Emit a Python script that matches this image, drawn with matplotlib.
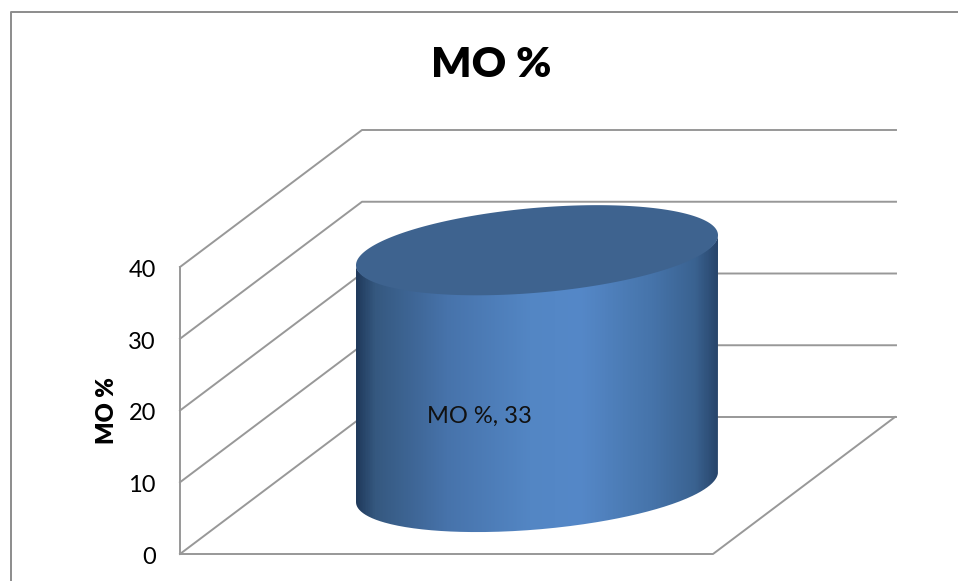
import numpy as np
from matplotlib import pyplot as plt
from matplotlib.colors import LinearSegmentedColormap
from matplotlib.patches import PathPatch
from matplotlib.path import Path

plt.rcParams['font.family'] = ['Lato', 'DejaVu Sans']

chart_title = 'MO %'
y_label = 'MO %'
y_ticks = [0, 10, 20, 30, 40]
series_name = 'MO %'
series_value = 33

# picture geometry, in pixels
X_FRONT, X_BACK, X_RIGHT = 180, 362, 896
X_FLOOR = 713
Y_ZERO_FRONT, Y_ZERO_BACK = 554, 417
PX_PER_UNIT = 7.175
GREY = '#989898'


def y_front(v):
    return Y_ZERO_FRONT - v * PX_PER_UNIT


def y_back(v):
    return Y_ZERO_BACK - v * PX_PER_UNIT


def ellipse(cx, cy, t):
    return cx + 181 * np.cos(t), cy - 15 * np.cos(t) + 42.5 * np.sin(t)


fig = plt.figure(figsize=(9.58, 5.81), dpi=100)
ax = fig.add_axes([0, 0, 1, 1])
ax.set_xlim(0, 958)
ax.set_ylim(581, 0)
ax.axis('off')

# outer chart border
ax.plot([11, 11, 958], [581, 12, 12], color='#8c8c8c', lw=1.4)

# walls and gridlines
for v in y_ticks:
    ax.plot([X_FRONT, X_BACK, X_RIGHT], [y_front(v), y_back(v), y_back(v)], color=GREY, lw=1.4)
    ax.text(156, y_front(v) + 3.5, str(v), fontsize=17, ha='right', va='center', color='black')
ax.plot([X_FRONT, X_FRONT], [y_front(0), y_front(y_ticks[-1])], color=GREY, lw=1.4)
ax.plot([X_FRONT, X_FLOOR, X_RIGHT - 1], [Y_ZERO_FRONT, Y_ZERO_FRONT, Y_ZERO_BACK], color=GREY, lw=1.4)

# cylinder
cx, cy_base = 537, 487
cy_top = cy_base - series_value * PX_PER_UNIT
t_front = np.linspace(np.pi, 0, 200)
t_base = np.linspace(0, np.pi, 200)
tx, ty = ellipse(cx, cy_top, t_front)
bx, by = ellipse(cx, cy_base, t_base)
# top edge pushed under the lid so no seam shows between them
ty = ty - 3 * np.sin(t_front)
side = Path(np.vstack([np.column_stack([tx, ty]), np.column_stack([bx, by]), [[tx[0], ty[0]]]]))
cmap = LinearSegmentedColormap.from_list('cyl', [
    (0.0, '#203a5c'), (0.05, '#35587f'), (0.25, '#4773ab'), (0.48, '#5386c4'),
    (0.62, '#5588c8'), (0.82, '#4674aa'), (0.94, '#3a6290'), (1.0, '#28466c')])
im = ax.imshow(np.linspace(0, 1, 400)[None, :], cmap=cmap, aspect='auto', zorder=3,
               extent=[356, 718, 540, 200])
im.set_clip_path(PathPatch(side, transform=ax.transData))
ax.set_xlim(0, 958)
ax.set_ylim(581, 0)

t_all = np.linspace(0, 2 * np.pi, 400)
ex, ey = ellipse(cx, cy_top, t_all)
ax.fill(ex, ey, color='#3e638f', lw=0, zorder=4)

ax.text(479, 416, f'{series_name}, {series_value}', fontsize=17, ha='center', va='center',
        color='#111111', zorder=5)

ax.text(491, 65, chart_title, fontsize=30.5, fontweight='heavy', ha='center', va='center', color='black')
ax.text(107, 411, y_label, fontsize=17, fontweight='heavy', rotation=90, ha='center', va='center', color='black')

fig.savefig('out.png', dpi=100)
